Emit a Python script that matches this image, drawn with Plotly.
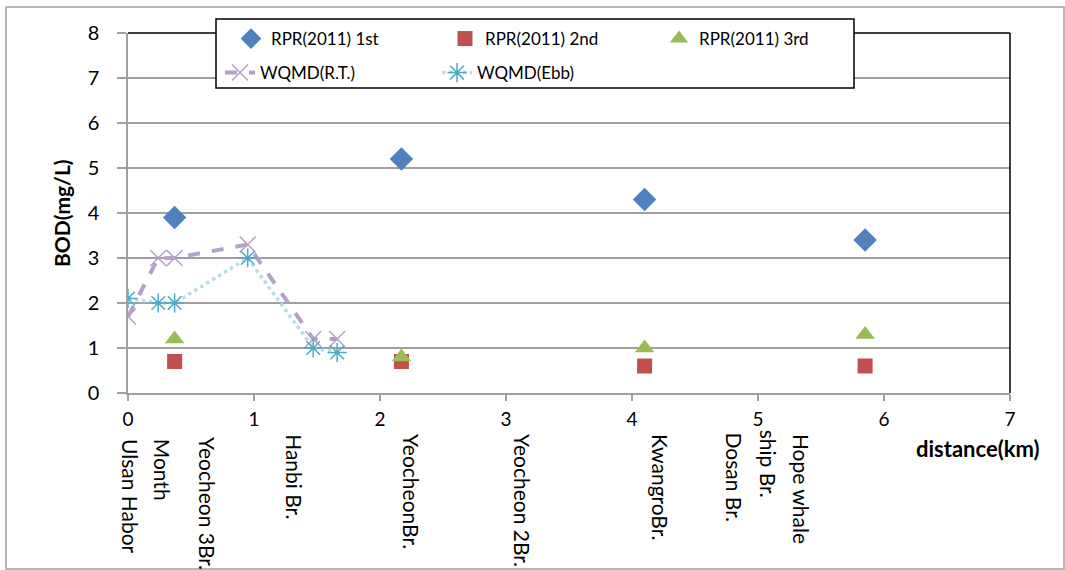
import plotly.graph_objects as go

# ---- data ----
rpr_x = [0.37, 2.17, 4.10, 5.85]
rpr_1st = [3.9, 5.2, 4.3, 3.4]
rpr_2nd = [0.7, 0.7, 0.6, 0.6]
rpr_3rd = [1.2, 0.8, 1.0, 1.3]

wqmd_x = [0.0, 0.24, 0.37, 0.95, 1.47, 1.66]
wqmd_rt = [1.7, 3.0, 3.0, 3.3, 1.2, 1.2]
wqmd_ebb = [2.1, 2.0, 2.0, 3.0, 1.0, 0.9]

x_ticks = [0, 1, 2, 3, 4, 5, 6, 7]
y_ticks = [0, 1, 2, 3, 4, 5, 6, 7, 8]

site_names = ["Ulsan Habor", "Month", "Yeocheon 3Br.", "Hanbi Br.", "YeocheonBr.",
              "Yeocheon 2Br.", "KwangroBr.", "Dosan Br.", "ship Br.", "Hope whale"]

# ---- layout helpers (positions, not data) ----
site_pos = [0.02, 0.28, 0.63, 1.32, 2.25, 3.13, 4.23, 4.81, 5.09, 5.35]
site_top = [437, 437, 435, 432, 432, 432, 432, 430, 428, 432]

FONT = "Lato"
W, H = 1065, 570
L, R, T, B = 128, 55, 33, 177
PW, PH = W - L - R, H - T - B

def px_x(p):
    return (p - L) / PW

def px_y(p):
    return (H - B - p) / PH

fig = go.Figure()

fig.add_trace(go.Scatter(
    x=rpr_x, y=rpr_1st, mode="markers", name="RPR(2011) 1st",
    marker=dict(symbol="diamond", size=18, color="#4F81BD"), legend="legend"))
fig.add_trace(go.Scatter(
    x=rpr_x, y=rpr_2nd, mode="markers", name="RPR(2011) 2nd",
    marker=dict(symbol="square", size=15, color="#C0504D"), legend="legend"))
fig.add_trace(go.Scatter(
    x=rpr_x, y=rpr_3rd, mode="markers", name="RPR(2011) 3rd",
    marker=dict(symbol="triangle-up", size=17, color="#9BBB59"), legend="legend"))
fig.add_trace(go.Scatter(
    x=wqmd_x, y=wqmd_rt, mode="lines+markers", name="WQMD(R.T.)",
    line=dict(color="#B3A2C7", width=4, dash="dash"),
    marker=dict(symbol="x-thin-open", size=16, color="#B3A2C7",
                line=dict(color="#B3A2C7", width=1.5)), legend="legend2"))
fig.add_trace(go.Scatter(
    x=wqmd_x, y=wqmd_ebb, mode="lines+markers", name="WQMD(Ebb)",
    line=dict(color="#B7DEE8", width=3.5, dash="dot"),
    marker=dict(symbol="asterisk-open", size=16, color="#4BACC6",
                line=dict(color="#4BACC6", width=1.5)), legend="legend2"))

annotations = []
for name, xp, top in zip(site_names, site_pos, site_top):
    annotations.append(dict(
        x=xp, xref="x", y=px_y(top), yref="paper", text=name, showarrow=False,
        textangle=90, xanchor="center", yanchor="top",
        font=dict(family=FONT, size=21, color="#000000")))
annotations.append(dict(
    x=px_x(978), xref="paper", y=px_y(433), yref="paper", text="<b>distance(km)</b>",
    showarrow=False, xanchor="center", yanchor="top",
    font=dict(family=FONT, size=22, color="#000000")))
annotations.append(dict(
    x=px_x(61), xref="paper", y=0.5, yref="paper", text="<b>BOD(mg/L)</b>",
    showarrow=False, xanchor="center", yanchor="middle", textangle=-90,
    font=dict(family=FONT, size=21, color="#000000")))

shapes = [
    # outer frame
    dict(type="rect", xref="paper", yref="paper", x0=px_x(6), x1=px_x(1064),
         y0=px_y(569), y1=px_y(7), line=dict(color="#A0A0A0", width=1.5), layer="below"),
    # top and right plot border
    dict(type="line", xref="paper", yref="paper", x0=0, x1=1, y0=1, y1=1,
         line=dict(color="#000000", width=1.5)),
    dict(type="line", xref="paper", yref="paper", x0=1, x1=1, y0=0, y1=1,
         line=dict(color="#000000", width=1.5)),
    # legend box
    dict(type="rect", xref="paper", yref="paper", x0=px_x(216), x1=px_x(854),
         y0=px_y(88), y1=px_y(19), fillcolor="white",
         line=dict(color="#000000", width=1.5), layer="above"),
]

fig.update_layout(
    width=W, height=H,
    margin=dict(l=L, r=R, t=T, b=B),
    paper_bgcolor="white", plot_bgcolor="white",
    font=dict(family=FONT, size=17, color="#000000"),
    showlegend=True,
    legend=dict(orientation="h", x=px_x(231), y=px_y(21), xanchor="left", yanchor="top",
                bgcolor="rgba(0,0,0,0)", borderwidth=0, entrywidth=169,
                font=dict(family=FONT, size=17), itemclick=False),
    legend2=dict(orientation="h", x=px_x(220), y=px_y(55), xanchor="left", yanchor="top",
                 bgcolor="rgba(0,0,0,0)", borderwidth=0, entrywidth=172,
                 font=dict(family=FONT, size=17), itemclick=False),
    xaxis=dict(range=[0, 7], tickvals=x_ticks, showgrid=False, zeroline=False,
               showline=True, linecolor="#A0A0A0", linewidth=1.5,
               ticks="outside", ticklen=6, tickcolor="#A0A0A0", tickwidth=1.5,
               ticklabelstandoff=2,
               tickfont=dict(family=FONT, size=19, color="#000000")),
    yaxis=dict(range=[0, 8], tickvals=y_ticks, showgrid=True, gridcolor="#A0A0A0", gridwidth=1.5,
               zeroline=False, showline=True, linecolor="#A0A0A0", linewidth=1.5,
               ticks="outside", ticklen=9, tickcolor="#A0A0A0", tickwidth=1.5,
               ticklabelstandoff=14,
               tickfont=dict(family=FONT, size=20, color="#000000")),
    annotations=annotations,
    shapes=shapes,
)

fig.write_html("out.html")
